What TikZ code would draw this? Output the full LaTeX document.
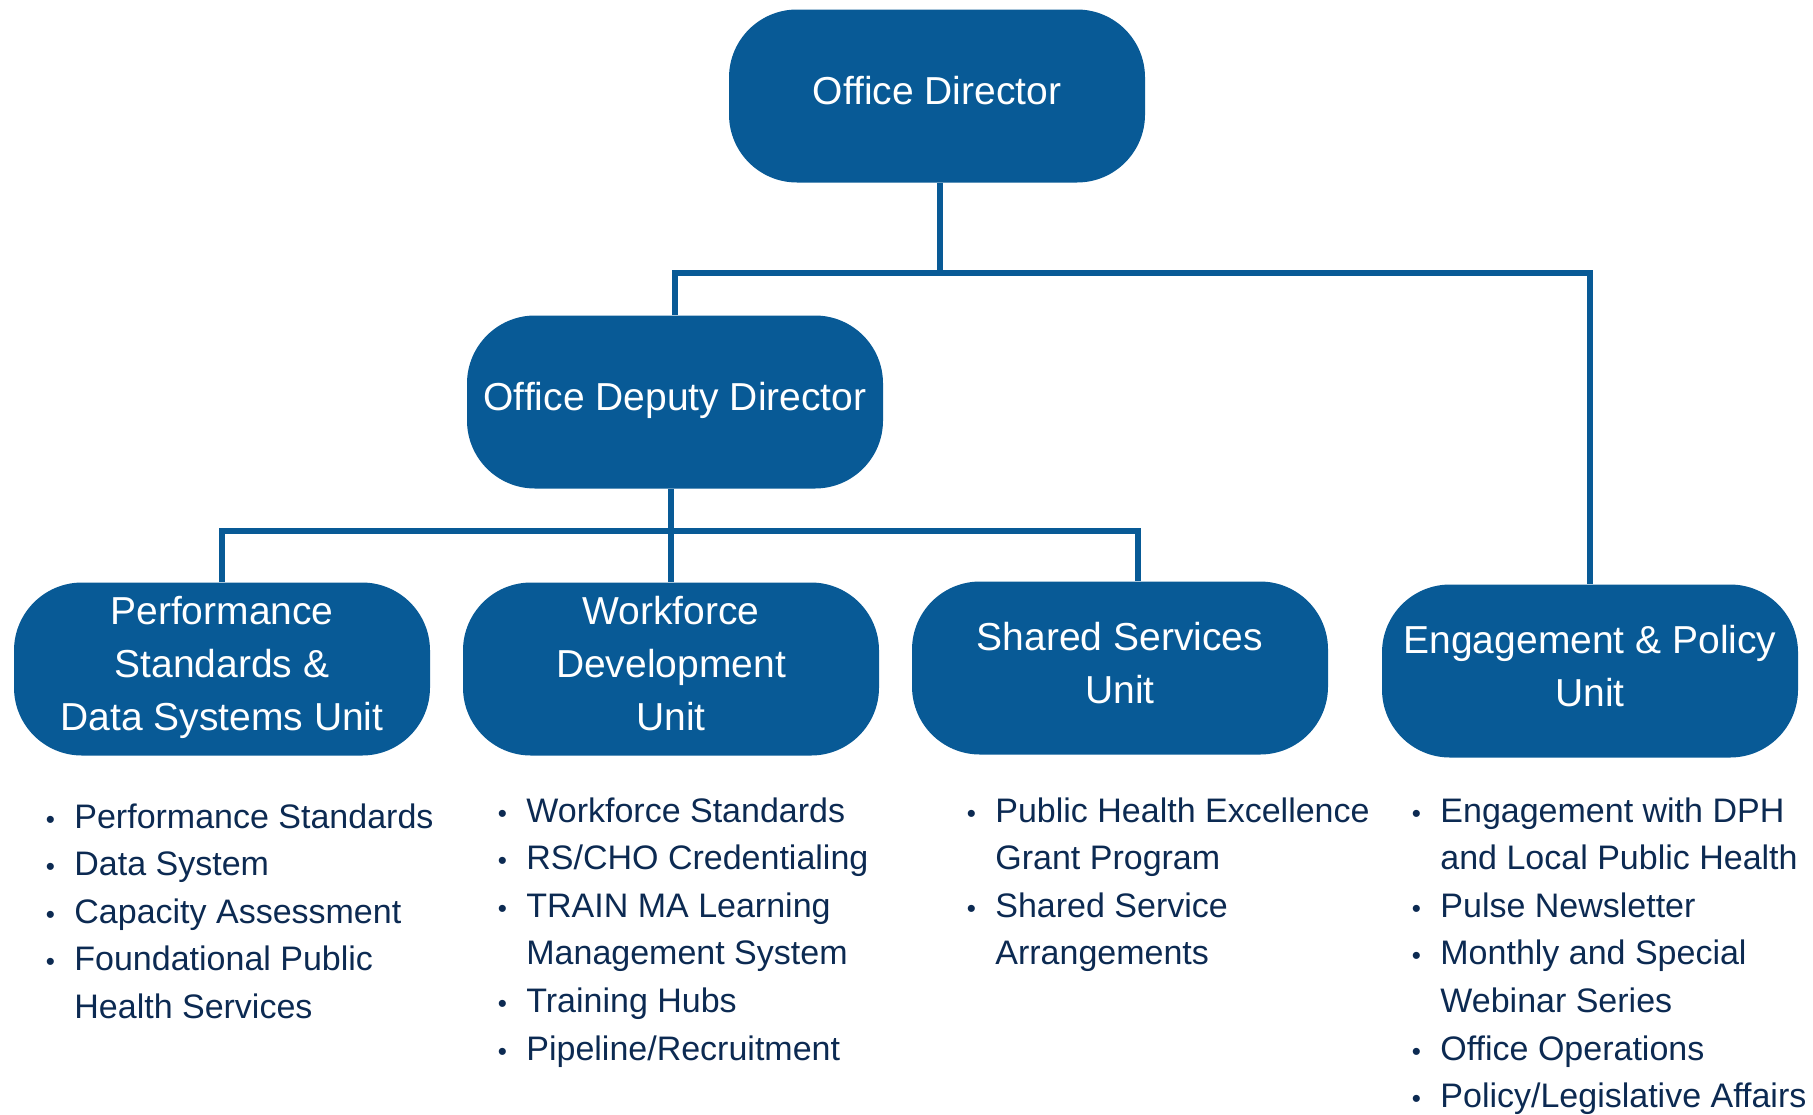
\documentclass[tikz,border=0pt]{standalone}
\usepackage{fontspec}
\setmainfont{Liberation Sans}
\usetikzlibrary{positioning}
\definecolor{unitblue}{RGB}{8,90,150}
\definecolor{listnavy}{RGB}{12,42,82}
\newcommand{\bul}{\makebox[24pt]{\fontsize{13}{13}\selectfont\textbullet}}

\begin{document}
\begin{tikzpicture}[x=0.5pt,y=-0.5pt,
		unit/.style={fill=unitblue,text=white,rounded corners=34pt,minimum width=208pt,minimum height=86.5pt,inner sep=0pt,text depth=5.5pt,align=center,font=\fontsize{19.5}{26.5}\selectfont},
		tasks/.style={anchor=base west,inner sep=0pt,text=listnavy,font=\fontsize{17}{23.8}\selectfont},
		link/.style={draw=unitblue,line width=3pt}]
	\useasboundingbox (0,0) rectangle (1813,1114);
	
	\node[unit] (od) at (937,96) {Office Director};
	\node[unit] (dd) at (675,402) {Office Deputy Director};
	\node[unit] (ps) at (222,669) {Performance\\Standards \&\\Data Systems Unit};
	\node[unit] (wd) at (671,669) {Workforce\\Development\\Unit};
	\node[unit] (ss) at (1120,668) {Shared Services\\Unit};
	\node[unit] (ep) at (1590,671) {Engagement \& Policy\\Unit};
	
	\coordinate (top) at (940,273);
	\coordinate (mid) at (671,531);
	\draw[link] (od.south -| top) -- (top);
	\draw[link] (dd.north) |- (top) -| (ep.north);
	\draw[link] (dd.south -| mid) -- (mid) -- (wd.north);
	\draw[link] (ps.north) |- (mid) -| ([xshift=9pt]ss.north);
	
	\node[tasks] (pslist) at (26,828) {\begin{tabular}[t]{@{}l@{}l@{}}
		\bul & Performance Standards\\
		\bul & Data System\\
		\bul & Capacity Assessment\\
		\bul & Foundational Public\\
		& Health Services
	\end{tabular}};
	\node[tasks] (wdlist) at (478,822) {\begin{tabular}[t]{@{}l@{}l@{}}
		\bul & Workforce Standards\\
		\bul & RS/CHO Credentialing\\
		\bul & TRAIN MA Learning\\
		& Management System\\
		\bul & Training Hubs\\
		\bul & Pipeline/Recruitment
	\end{tabular}};
	\node[tasks] (sslist) at (947,822) {\begin{tabular}[t]{@{}l@{}l@{}}
		\bul & Public Health Excellence\\
		& Grant Program\\
		\bul & Shared Service\\
		& Arrangements
	\end{tabular}};
	\node[tasks] (eplist) at (1392,822) {\begin{tabular}[t]{@{}l@{}l@{}}
		\bul & Engagement with DPH\\
		& and Local Public Health\\
		\bul & Pulse Newsletter\\
		\bul & Monthly and Special\\
		& Webinar Series\\
		\bul & Office Operations\\
		\bul & Policy/Legislative Affairs
	\end{tabular}};
\end{tikzpicture}
\end{document}
